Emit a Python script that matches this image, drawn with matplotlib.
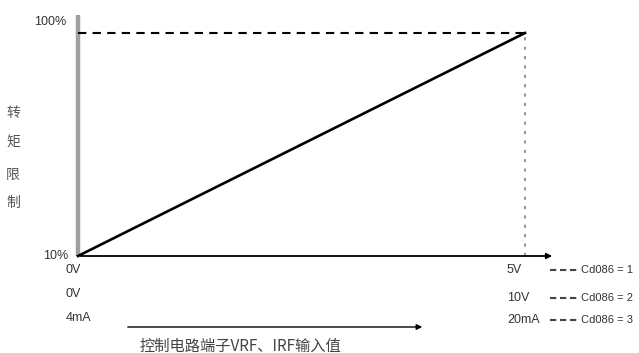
import matplotlib
matplotlib.use("Agg")
import matplotlib.pyplot as plt
from matplotlib.lines import Line2D
from matplotlib.patches import FancyArrowPatch

plt.rcParams['font.family'] = ['Noto Sans CJK SC', 'DejaVu Sans']
NARROW = ['Liberation Sans Narrow', 'Liberation Sans', 'DejaVu Sans']

# data
x_input = [0, 10]          # relative input (0 .. full scale)
y_torque = [10, 100]       # torque limit %
y_ticks = ["10%", "100%"]
low_labels = ["0V", "0V", "4mA"]
high_labels = ["5V", "10V", "20mA"]
legend_labels = ["Cd086 = 1", "Cd086 = 2", "Cd086 = 3"]
ylabel_chars = ["转", "矩", "限", "制"]
xlabel = "控制电路端子VRF、IRF输入值"

W, H = 639, 353
fig = plt.figure(figsize=(W / 100, H / 100), dpi=100)

def fx(px):
    return px / W

def fy(py):
    return 1 - py / H

ax = fig.add_axes([fx(78), fy(256), (555 - 78) / W, (256 - 15) / H])
xmax = 10 * (555 - 78) / (525 - 78)
ymax = 100 + 90 * (33 - 15) / (256 - 33)
ax.set_xlim(0, xmax)
ax.set_ylim(10, ymax)
for s in ax.spines.values():
    s.set_visible(False)
ax.set_xticks([])
ax.set_yticks([])
ax.patch.set_alpha(0)

# y axis (gray thick)
ax.plot([0, 0], [10, ymax], color="#a0a0a0", lw=3.2, solid_capstyle="butt", clip_on=False)
# x axis with arrow
ax.annotate("", xy=(xmax, 10), xytext=(0, 10),
            arrowprops=dict(arrowstyle="-|>", color="black", lw=1.3, mutation_scale=8),
            annotation_clip=False)
# reference lines
ax.plot([0, x_input[1]], [y_torque[1], y_torque[1]], color="black", lw=1.5,
        dashes=(4, 3), clip_on=False)
ax.plot([x_input[1], x_input[1]], [y_torque[0], y_torque[1]], color="#999999", lw=1.5,
        dashes=(1.5, 3), clip_on=False)
# main line
ax.plot(x_input, y_torque, color="black", lw=1.9, clip_on=False)

fs = 9
tc = "#333333"
# y tick labels
fig.text(fx(68), fy(256), y_ticks[0], ha="right", va="center", fontsize=fs, color=tc, family=NARROW)
fig.text(fx(66), fy(22), y_ticks[1], ha="right", va="center", fontsize=fs, color=tc, family=NARROW)

# y label characters stacked
for py, ch in zip([113, 143, 175, 203], ylabel_chars):
    fig.text(fx(13), fy(py), ch, ha="center", va="center", fontsize=10, color="#555555")

# low / high labels
low_y = [270, 294, 318]
for lbl, py in zip(low_labels, low_y):
    fig.text(fx(66), fy(py), lbl, ha="left", va="center", fontsize=fs, color=tc, family=NARROW)
high_y = [270, 298, 320]
for lbl, py in zip(high_labels, high_y):
    fig.text(fx(507), fy(py), lbl, ha="left", va="center", fontsize=fs, color=tc, family=NARROW)
for lbl, py in zip(legend_labels, high_y):
    fig.add_artist(Line2D([fx(550), fx(577)], [fy(py), fy(py)], transform=fig.transFigure,
                          color="#444444", lw=1.5, dashes=(3, 1.8), solid_capstyle="butt",
                          dash_capstyle="butt"))
    fig.text(fx(581), fy(py), lbl, ha="left", va="center", fontsize=8, color=tc, family=NARROW)

# bottom arrow and label
fig.add_artist(FancyArrowPatch(
    (fx(125), fy(327)), (fx(425), fy(327)), transform=fig.transFigure,
    arrowstyle="-|>", mutation_scale=8, color="black", lw=1.0))
fig.text(fx(140), fy(346), xlabel, ha="left", va="center", fontsize=11, color="#444444")

fig.savefig("out.png", dpi=100)
